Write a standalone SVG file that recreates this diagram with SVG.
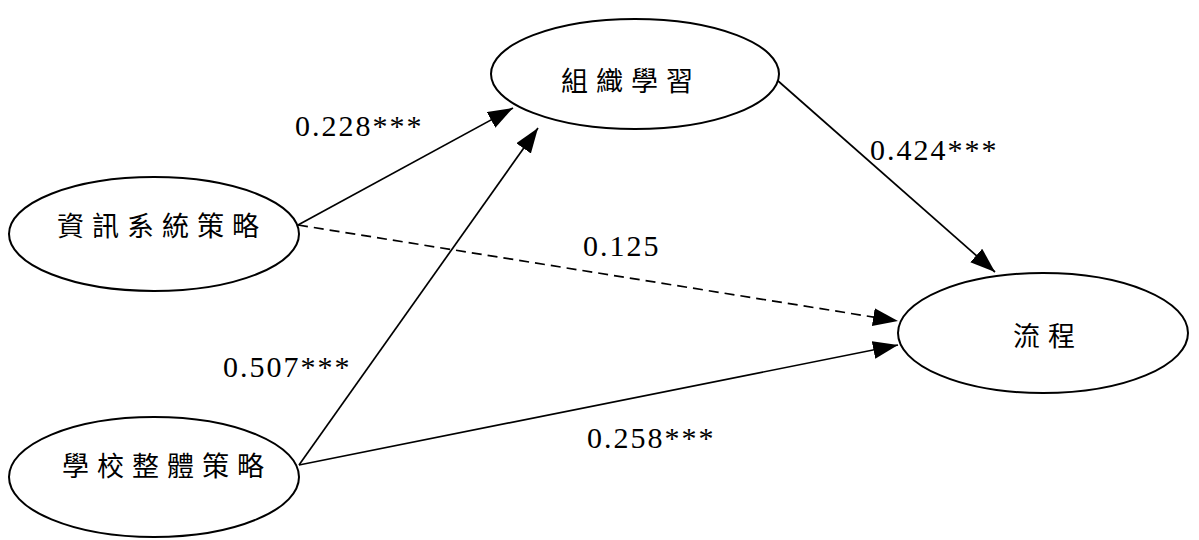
<svg xmlns="http://www.w3.org/2000/svg" width="1199" height="540" viewBox="0 0 1199 540">
<style>
.node ellipse{fill:#fff;stroke:#000;stroke-width:2}
.cjk{font-family:"Liberation Serif","Noto Sans CJK TC",serif;font-size:27px;letter-spacing:8px;fill:#000}
.num{font-family:"Liberation Serif",serif;font-size:30px;letter-spacing:2px;fill:#000}
.edge{stroke:#000;stroke-width:1.7;fill:none}
.dash{stroke-dasharray:10 6}
</style>
<defs>
<marker id="ah" markerUnits="userSpaceOnUse" markerWidth="26" markerHeight="20" refX="25" refY="9" orient="auto">
<path d="M0,0 L25,9 L0,18 z" fill="#000"/>
</marker>
</defs>
<g id="connectors">
<line class="edge" x1="298" y1="225" x2="513" y2="108" marker-end="url(#ah)"/>
<line class="edge" x1="299" y1="465" x2="538" y2="128" marker-end="url(#ah)"/>
<line class="edge" x1="777" y1="80" x2="995" y2="272" marker-end="url(#ah)"/>
<line class="edge dash" x1="298" y1="225" x2="898" y2="321" marker-end="url(#ah)"/>
<line class="edge" x1="299" y1="465" x2="898" y2="345" marker-end="url(#ah)"/>
</g>
<g id="n-org" class="node">
<ellipse cx="635" cy="74" rx="144" ry="55"/>
<text class="cjk" x="561" y="91">組織學習</text>
</g>
<g id="n-is" class="node">
<ellipse cx="154" cy="234" rx="145" ry="57"/>
<text class="cjk" x="57" y="236">資訊系統策略</text>
</g>
<g id="n-school" class="node">
<ellipse cx="154" cy="477" rx="145" ry="60"/>
<text class="cjk" x="62" y="476">學校整體策略</text>
</g>
<g id="n-process" class="node">
<ellipse cx="1043" cy="333" rx="145" ry="60"/>
<text class="cjk" x="1013" y="346">流程</text>
</g>
<g id="labels">
<text class="num" x="295" y="136">0.228***</text>
<text class="num" x="583" y="256">0.125</text>
<text class="num" x="870" y="160">0.424***</text>
<text class="num" x="223" y="377">0.507***</text>
<text class="num" x="587" y="448">0.258***</text>
</g>
</svg>
